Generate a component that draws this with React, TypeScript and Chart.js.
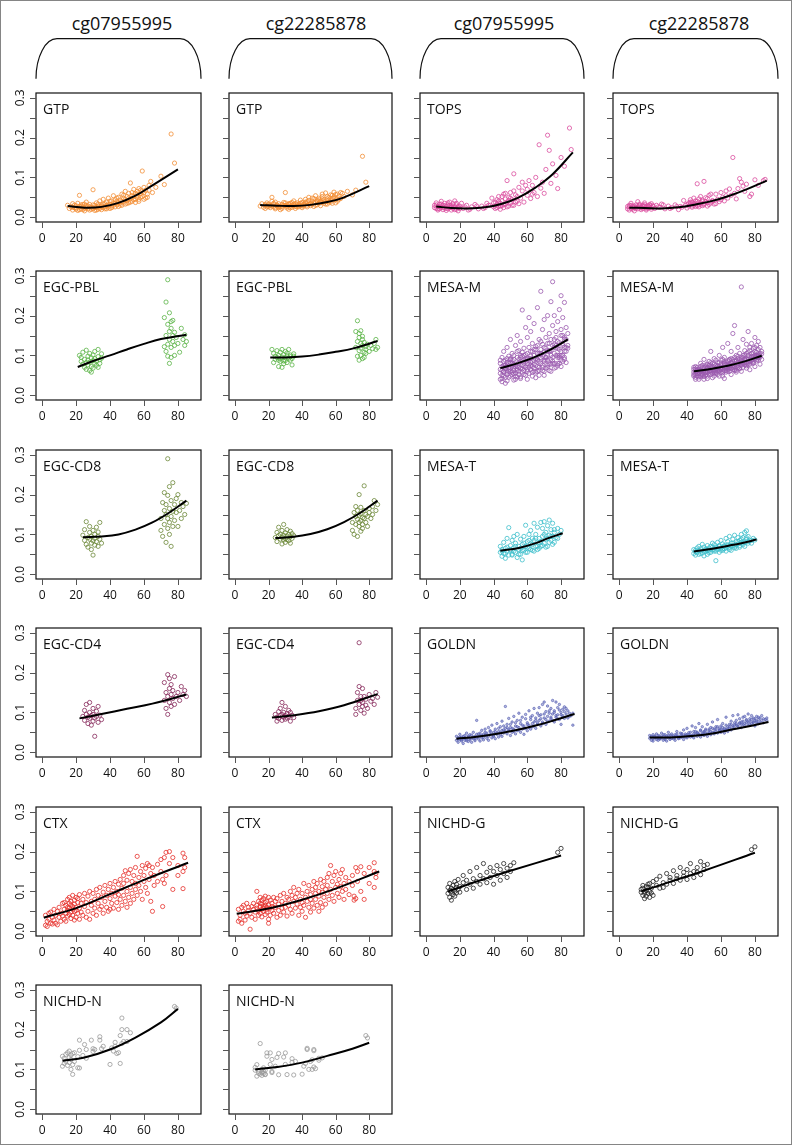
import React, { useEffect, useRef } from "react";
import { Chart, registerables } from "chart.js";
Chart.register(...registerables);

// ---------- layout ----------
const COL_L = [36, 229, 420, 613];
const COL_W = [165, 163, 164, 165];
const ROW_T = [93, 271, 450, 628, 807, 985];
const BOX_H = 129;
const HEADER_X = [121, 315, 503, 698];
const headerLabels = ["cg07955995", "cg22285878", "cg07955995", "cg22285878"];
const xTicks = [0, 20, 40, 60, 80];
const yTicks = [0, 0.05, 0.1, 0.15, 0.2, 0.25, 0.3];
const yLabelTicks = [0, 0.1, 0.2, 0.3];
const FONT = '"Open Sans", "Noto Sans", sans-serif';

// ---------- GTP ----------
const gtpAge = [15,16,17,18,18,19,20,20,21,21,22,22,23,23,24,24,25,25,26,26,27,27,28,28,29,30,30,31,31,32,32,33,33,34,34,35,35,36,36,37,37,38,38,39,39,40,40,41,41,42,42,43,43,44,44,45,45,46,46,47,47,48,48,49,49,50,50,51,51,52,52,53,53,54,54,55,55,56,56,57,57,58,58,59,59,60,60,61,62,63,64,65,67,70,72,76,78];
const gtpA = [0.030,0.022,0.026,0.018,0.034,0.024,0.029,0.020,0.035,0.017,0.027,0.055,0.021,0.031,0.019,0.026,0.033,0.016,0.024,0.038,0.021,0.028,0.018,0.032,0.025,0.069,0.022,0.030,0.017,0.036,0.024,0.028,0.020,0.041,0.026,0.019,0.031,0.045,0.024,0.034,0.021,0.029,0.038,0.025,0.048,0.032,0.022,0.041,0.028,0.036,0.054,0.026,0.044,0.031,0.039,0.050,0.027,0.043,0.035,0.058,0.030,0.047,0.038,0.065,0.033,0.052,0.042,0.036,0.060,0.046,0.086,0.040,0.055,0.070,0.044,0.060,0.037,0.065,0.050,0.072,0.045,0.058,0.068,0.116,0.052,0.062,0.075,0.048,0.058,0.068,0.090,0.062,0.075,0.103,0.082,0.209,0.136];
const gtpB = [0.028,0.034,0.025,0.030,0.022,0.036,0.027,0.031,0.024,0.029,0.040,0.050,0.026,0.033,0.021,0.038,0.028,0.030,0.024,0.034,0.027,0.019,0.032,0.026,0.037,0.062,0.029,0.023,0.031,0.034,0.020,0.028,0.035,0.030,0.025,0.033,0.041,0.027,0.022,0.031,0.036,0.026,0.033,0.043,0.029,0.024,0.037,0.031,0.028,0.045,0.034,0.026,0.039,0.032,0.050,0.036,0.029,0.041,0.033,0.047,0.027,0.038,0.054,0.043,0.031,0.036,0.048,0.029,0.040,0.052,0.058,0.035,0.044,0.039,0.061,0.046,0.033,0.050,0.038,0.056,0.042,0.047,0.035,0.063,0.051,0.044,0.057,0.040,0.053,0.047,0.060,0.052,0.065,0.056,0.068,0.153,0.088];
const gtpAge2 = [18,19,20,22,23,24,25,26,28,29,30,31,32,33,34,35,36,37,38,39,40,41,42,43,44,45,46,47,48,49,50,51,52,53,54,55,56,57,58,59,60,61,62,63];
const gtpA2 = [0.025,0.030,0.023,0.019,0.027,0.032,0.022,0.029,0.026,0.020,0.031,0.025,0.018,0.033,0.022,0.027,0.033,0.026,0.021,0.031,0.040,0.024,0.030,0.035,0.048,0.036,0.030,0.040,0.055,0.044,0.035,0.048,0.038,0.062,0.052,0.045,0.058,0.040,0.050,0.064,0.045,0.068,0.050,0.080];
const gtpB2 = [0.032,0.026,0.033,0.028,0.035,0.024,0.031,0.027,0.022,0.030,0.036,0.027,0.032,0.024,0.037,0.029,0.034,0.026,0.030,0.035,0.028,0.033,0.038,0.030,0.042,0.034,0.048,0.036,0.030,0.040,0.044,0.036,0.046,0.040,0.033,0.052,0.043,0.038,0.055,0.048,0.036,0.058,0.045,0.062];
const gtpFitAge = [15,25,35,45,55,65,80];
const gtpFitA = [0.028,0.024,0.026,0.036,0.054,0.080,0.120];
const gtpFitB = [0.031,0.029,0.028,0.031,0.038,0.050,0.078];

// ---------- TOPS ----------
const topsAge = [5,6,6,7,7,8,8,9,9,10,10,11,11,12,12,13,13,14,14,15,15,16,16,17,17,18,18,19,19,20,21,22,24,25,27,29,31,33,35,36,38,39,40,41,41,42,42,43,43,44,44,45,45,46,46,47,47,48,48,49,49,50,50,51,52,52,53,54,55,56,57,58,59,60,61,62,63,64,65,66,67,68,69,70,71,72,73,74,75,77,78,80,82,85,86];
const topsA = [0.030,0.022,0.036,0.018,0.027,0.033,0.021,0.040,0.025,0.019,0.030,0.023,0.035,0.017,0.027,0.031,0.021,0.038,0.024,0.018,0.029,0.034,0.022,0.026,0.041,0.020,0.031,0.024,0.016,0.028,0.035,0.022,0.030,0.018,0.026,0.032,0.021,0.028,0.024,0.035,0.030,0.048,0.026,0.038,0.022,0.044,0.031,0.027,0.052,0.035,0.020,0.041,0.029,0.058,0.024,0.046,0.033,0.092,0.038,0.028,0.050,0.062,0.035,0.044,0.109,0.030,0.056,0.040,0.075,0.048,0.066,0.038,0.080,0.055,0.092,0.047,0.080,0.062,0.100,0.052,0.182,0.073,0.088,0.060,0.120,0.206,0.168,0.085,0.134,0.105,0.072,0.150,0.128,0.224,0.170];
const topsB = [0.027,0.018,0.030,0.022,0.035,0.020,0.028,0.024,0.016,0.031,0.025,0.039,0.021,0.027,0.033,0.019,0.025,0.030,0.022,0.028,0.036,0.024,0.018,0.029,0.023,0.032,0.026,0.020,0.034,0.027,0.022,0.030,0.025,0.033,0.021,0.028,0.024,0.031,0.019,0.027,0.042,0.030,0.023,0.036,0.028,0.033,0.044,0.025,0.038,0.030,0.048,0.027,0.035,0.084,0.040,0.031,0.026,0.052,0.037,0.029,0.043,0.090,0.034,0.039,0.047,0.028,0.055,0.036,0.042,0.033,0.058,0.045,0.039,0.062,0.050,0.041,0.066,0.048,0.071,0.055,0.150,0.060,0.046,0.072,0.097,0.088,0.078,0.065,0.083,0.052,0.058,0.094,0.080,0.092,0.095];
const topsAge2 = [5,6,7,8,9,10,11,12,13,14,15,16,17,18,19,20,23,26,30,34,37,40,42,43,44,45,46,47,48,49,50,51,52,53,54,55,57,60,63];
const topsA2 = [0.024,0.031,0.021,0.027,0.033,0.024,0.029,0.022,0.036,0.030,0.025,0.028,0.019,0.035,0.027,0.022,0.026,0.020,0.028,0.022,0.030,0.036,0.024,0.040,0.028,0.052,0.032,0.060,0.026,0.042,0.048,0.030,0.066,0.038,0.052,0.034,0.088,0.070,0.058];
const topsB2 = [0.021,0.026,0.030,0.024,0.028,0.022,0.026,0.030,0.023,0.027,0.032,0.021,0.027,0.030,0.024,0.029,0.026,0.031,0.022,0.027,0.025,0.032,0.038,0.028,0.034,0.041,0.029,0.046,0.033,0.040,0.031,0.049,0.037,0.032,0.058,0.040,0.034,0.044,0.054];
const topsFitAge = [6,15,25,35,45,55,65,75,87];
const topsFitA = [0.027,0.023,0.022,0.025,0.034,0.050,0.075,0.108,0.163];
const topsFitB = [0.024,0.023,0.022,0.025,0.032,0.041,0.054,0.070,0.092];

// ---------- EGC-PBL ----------
const pblAge = [22,23,23,24,24,25,25,26,26,26,27,27,27,28,28,28,29,29,29,30,30,30,31,31,31,32,32,33,33,33,34,34,35,35,72,72,73,73,73,74,74,74,74,75,75,75,75,76,76,76,76,77,77,77,78,78,78,79,80,81,82,83,84,84,85];
const pblA = [0.100,0.085,0.095,0.078,0.108,0.070,0.090,0.082,0.113,0.065,0.098,0.076,0.088,0.062,0.105,0.083,0.072,0.094,0.058,0.087,0.101,0.068,0.080,0.092,0.110,0.075,0.086,0.097,0.070,0.115,0.089,0.080,0.104,0.093,0.122,0.195,0.234,0.110,0.150,0.290,0.128,0.178,0.098,0.207,0.160,0.140,0.080,0.185,0.120,0.168,0.095,0.150,0.135,0.188,0.100,0.158,0.125,0.145,0.130,0.108,0.168,0.140,0.125,0.152,0.135];
const pblB = [0.115,0.105,0.082,0.098,0.090,0.112,0.095,0.088,0.100,0.072,0.108,0.092,0.085,0.070,0.115,0.096,0.086,0.102,0.079,0.110,0.094,0.087,0.099,0.082,0.106,0.093,0.115,0.088,0.101,0.097,0.076,0.092,0.104,0.098,0.120,0.160,0.187,0.098,0.135,0.145,0.112,0.155,0.088,0.162,0.130,0.100,0.118,0.148,0.092,0.140,0.125,0.108,0.133,0.095,0.122,0.115,0.105,0.128,0.110,0.125,0.117,0.130,0.115,0.140,0.120];
const pblFitAge = [21,30,40,50,60,70,85];
const pblFitA = [0.071,0.086,0.100,0.115,0.129,0.141,0.152];
const pblFitB = [0.095,0.095,0.097,0.102,0.109,0.117,0.136];

// ---------- EGC-CD8 ----------
const cd8Age = [24,25,25,26,26,27,27,28,28,28,29,29,29,30,30,30,31,31,31,32,32,33,33,33,34,34,35,70,70,71,71,72,72,72,73,73,73,74,74,74,74,75,75,75,75,76,76,76,77,77,77,78,78,79,79,80,80,81,82,82,83,84,85];
const cd8A = [0.098,0.085,0.112,0.075,0.132,0.092,0.068,0.105,0.088,0.120,0.078,0.095,0.062,0.110,0.084,0.048,0.100,0.073,0.090,0.118,0.082,0.095,0.070,0.106,0.088,0.130,0.078,0.140,0.110,0.180,0.095,0.160,0.125,0.205,0.150,0.080,0.175,0.290,0.140,0.198,0.115,0.165,0.130,0.220,0.100,0.185,0.145,0.070,0.158,0.120,0.230,0.175,0.135,0.155,0.190,0.120,0.200,0.160,0.140,0.180,0.170,0.150,0.178];
const cd8B = [0.092,0.105,0.082,0.097,0.118,0.088,0.100,0.076,0.110,0.093,0.086,0.125,0.098,0.090,0.080,0.104,0.096,0.087,0.112,0.100,0.084,0.094,0.078,0.108,0.090,0.102,0.097,0.130,0.110,0.155,0.100,0.125,0.145,0.170,0.138,0.095,0.160,0.200,0.120,0.148,0.130,0.152,0.108,0.168,0.135,0.142,0.125,0.115,0.160,0.140,0.222,0.130,0.150,0.145,0.120,0.165,0.155,0.140,0.170,0.150,0.185,0.160,0.175];
const cd8FitAge = [24,35,45,55,65,75,85];
const cd8FitA = [0.093,0.095,0.100,0.112,0.130,0.155,0.185];
const cd8FitB = [0.091,0.094,0.101,0.113,0.131,0.155,0.185];

// ---------- EGC-CD4 ----------
const cd4Age = [24,25,25,26,26,27,27,28,28,28,29,29,30,30,30,31,31,32,32,33,33,34,35,72,72,73,73,74,74,74,75,75,75,76,76,76,77,77,78,78,79,80,81,82,83,84,85];
const cd4A = [0.090,0.105,0.080,0.095,0.120,0.072,0.088,0.100,0.085,0.125,0.068,0.092,0.110,0.078,0.095,0.040,0.086,0.103,0.090,0.075,0.115,0.093,0.082,0.130,0.175,0.150,0.110,0.195,0.140,0.095,0.160,0.125,0.185,0.145,0.115,0.170,0.135,0.155,0.120,0.190,0.140,0.150,0.130,0.165,0.145,0.155,0.140];
const cd4B = [0.095,0.088,0.078,0.102,0.085,0.092,0.110,0.080,0.095,0.125,0.088,0.100,0.083,0.092,0.115,0.086,0.097,0.105,0.090,0.078,0.100,0.093,0.087,0.110,0.095,0.130,0.150,0.275,0.120,0.165,0.140,0.105,0.130,0.115,0.160,0.125,0.098,0.140,0.118,0.133,0.110,0.145,0.128,0.135,0.120,0.150,0.138];
const cd4FitAge = [22,35,50,65,85];
const cd4FitA = [0.085,0.096,0.109,0.122,0.145];
const cd4FitB = [0.087,0.093,0.103,0.118,0.146];

// ---------- MESA-M ----------
const mesaMAge = [44,44,44,45,45,45,46,46,46,47,47,47,48,48,48,49,49,49,50,50,50,51,51,51,52,52,52,53,53,53,54,54,54,55,55,55,56,56,56,57,57,57,58,58,58,59,59,59,60,60,60,61,61,61,62,62,62,63,63,63,64,64,64,65,65,65,66,66,66,67,67,67,68,68,68,69,69,69,70,70,70,71,71,71,72,72,72,73,73,73,74,74,74,75,75,75,76,76,76,77,77,77,78,78,78,79,79,79,80,80,80,81,81,81,82,82,82,83,83,84];
const mesaMA = [0.055,0.080,0.040,0.095,0.062,0.034,0.075,0.048,0.110,0.066,0.088,0.030,0.120,0.058,0.076,0.045,0.098,0.070,0.082,0.060,0.140,0.052,0.105,0.073,0.090,0.038,0.068,0.125,0.078,0.056,0.095,0.046,0.150,0.070,0.112,0.060,0.085,0.135,0.042,0.214,0.075,0.098,0.062,0.118,0.088,0.170,0.050,0.102,0.080,0.145,0.065,0.195,0.092,0.055,0.110,0.075,0.160,0.085,0.130,0.048,0.100,0.180,0.068,0.122,0.058,0.092,0.220,0.105,0.072,0.140,0.085,0.050,0.261,0.115,0.095,0.165,0.075,0.128,0.108,0.190,0.060,0.145,0.088,0.118,0.200,0.100,0.070,0.155,0.130,0.062,0.235,0.112,0.090,0.285,0.175,0.080,0.140,0.105,0.200,0.125,0.160,0.070,0.185,0.095,0.135,0.215,0.115,0.080,0.250,0.150,0.100,0.130,0.195,0.085,0.233,0.145,0.110,0.170,0.120,0.155];
const mesaMB = [0.048,0.065,0.058,0.072,0.052,0.045,0.060,0.070,0.055,0.040,0.066,0.058,0.080,0.050,0.062,0.068,0.055,0.075,0.047,0.063,0.090,0.058,0.072,0.050,0.066,0.042,0.078,0.060,0.085,0.053,0.070,0.062,0.110,0.055,0.080,0.067,0.048,0.092,0.060,0.075,0.064,0.057,0.082,0.068,0.052,0.100,0.072,0.061,0.058,0.088,0.070,0.120,0.066,0.048,0.078,0.062,0.095,0.070,0.058,0.083,0.064,0.130,0.075,0.088,0.060,0.072,0.110,0.068,0.080,0.155,0.065,0.090,0.175,0.078,0.070,0.100,0.062,0.085,0.092,0.120,0.075,0.080,0.068,0.105,0.272,0.088,0.078,0.095,0.140,0.070,0.112,0.082,0.100,0.128,0.092,0.074,0.160,0.085,0.108,0.095,0.078,0.120,0.105,0.088,0.130,0.098,0.118,0.085,0.145,0.095,0.110,0.100,0.125,0.090,0.115,0.102,0.135,0.120,0.098,0.110];
const mesaMAge2 = [44,44,45,45,46,46,47,47,48,48,49,49,50,50,51,51,52,52,53,53,54,54,55,55,56,56,57,57,58,58,59,59,60,60,61,61,62,62,63,63,64,64,65,65,66,66,67,67,68,68,69,69,70,70,71,71,72,72,73,73,74,74,75,75,76,76,77,77,78,78,79,79,80,80,81,81,82,82,83,83];
const mesaMA2 = [0.065,0.088,0.050,0.072,0.085,0.060,0.070,0.045,0.052,0.092,0.080,0.060,0.068,0.090,0.088,0.058,0.062,0.100,0.072,0.048,0.110,0.066,0.082,0.052,0.095,0.068,0.058,0.108,0.080,0.100,0.070,0.090,0.105,0.060,0.078,0.120,0.092,0.065,0.110,0.072,0.088,0.060,0.075,0.115,0.090,0.125,0.105,0.070,0.080,0.135,0.098,0.062,0.120,0.085,0.095,0.068,0.130,0.088,0.110,0.078,0.140,0.100,0.095,0.125,0.120,0.080,0.100,0.145,0.118,0.075,0.132,0.095,0.110,0.165,0.150,0.100,0.120,0.095,0.140,0.110];
const mesaMB2 = [0.070,0.052,0.058,0.066,0.048,0.062,0.064,0.054,0.072,0.046,0.060,0.052,0.070,0.056,0.052,0.076,0.068,0.058,0.075,0.062,0.058,0.082,0.064,0.072,0.078,0.056,0.068,0.088,0.060,0.074,0.082,0.064,0.066,0.078,0.090,0.060,0.070,0.084,0.078,0.062,0.086,0.068,0.066,0.090,0.075,0.092,0.084,0.070,0.062,0.095,0.088,0.076,0.070,0.098,0.090,0.082,0.075,0.094,0.100,0.082,0.090,0.076,0.105,0.080,0.090,0.100,0.085,0.112,0.098,0.090,0.106,0.082,0.092,0.120,0.098,0.108,0.088,0.100,0.105,0.095];
const mesaMAge3 = [45,46,47,48,49,50,51,52,53,54,55,56,57,58,59,60,61,62,63,64,65,66,67,68,69,70,71,72,73,74,75,76,77,78,79,80,81,82,83,84,46,48,50,52,54,56,58,60,62,64,66,68,70,72,74,76,78,80,82,84];
const mesaMA3 = [0.042,0.058,0.075,0.036,0.064,0.048,0.080,0.054,0.040,0.072,0.090,0.046,0.066,0.052,0.085,0.040,0.070,0.098,0.058,0.078,0.044,0.088,0.062,0.105,0.070,0.050,0.095,0.075,0.112,0.060,0.086,0.068,0.118,0.080,0.100,0.072,0.125,0.090,0.082,0.118,0.070,0.082,0.092,0.078,0.062,0.100,0.074,0.092,0.082,0.115,0.060,0.102,0.088,0.112,0.078,0.128,0.100,0.088,0.140,0.125];
const mesaMB3 = [0.040,0.055,0.046,0.060,0.050,0.040,0.058,0.048,0.066,0.052,0.044,0.062,0.054,0.072,0.048,0.064,0.056,0.042,0.068,0.060,0.078,0.052,0.074,0.064,0.058,0.084,0.066,0.060,0.078,0.088,0.068,0.076,0.064,0.094,0.080,0.072,0.086,0.096,0.078,0.104,0.064,0.058,0.060,0.070,0.076,0.064,0.066,0.074,0.080,0.072,0.082,0.086,0.070,0.084,0.092,0.080,0.086,0.100,0.094,0.090];
const mesaMFitAge = [44,54,64,74,84];
const mesaMFitA = [0.068,0.080,0.095,0.115,0.140];
const mesaMFitB = [0.060,0.066,0.074,0.085,0.099];

// ---------- MESA-T ----------
const mesaTAge = [44,44,45,45,46,46,47,47,48,48,49,49,50,50,51,51,52,52,53,53,54,54,55,55,56,56,57,57,58,58,59,59,60,60,61,61,62,62,63,63,64,64,65,65,66,66,67,67,68,68,69,69,70,70,71,71,72,72,73,73,74,74,75,75,76,76,78,78,79,80];
const mesaTA = [0.055,0.070,0.045,0.062,0.080,0.052,0.065,0.040,0.090,0.058,0.117,0.048,0.072,0.060,0.085,0.050,0.066,0.095,0.055,0.078,0.100,0.042,0.070,0.062,0.088,0.050,0.036,0.075,0.095,0.060,0.123,0.070,0.082,0.055,0.100,0.065,0.076,0.110,0.060,0.090,0.085,0.128,0.070,0.100,0.118,0.062,0.090,0.080,0.130,0.070,0.095,0.115,0.078,0.132,0.105,0.088,0.122,0.070,0.098,0.136,0.085,0.112,0.128,0.095,0.080,0.105,0.115,0.090,0.100,0.110];
const mesaTB = [0.052,0.062,0.060,0.048,0.066,0.055,0.050,0.070,0.058,0.064,0.075,0.053,0.046,0.068,0.062,0.057,0.072,0.050,0.060,0.066,0.055,0.070,0.078,0.061,0.058,0.074,0.034,0.068,0.062,0.080,0.070,0.055,0.085,0.066,0.060,0.076,0.072,0.064,0.090,0.058,0.070,0.082,0.095,0.066,0.078,0.060,0.088,0.072,0.070,0.098,0.082,0.065,0.092,0.076,0.085,0.068,0.100,0.080,0.078,0.092,0.105,0.070,0.109,0.088,0.082,0.095,0.085,0.078,0.090,0.086];
const mesaTAge2 = [45,47,48,50,51,52,53,55,56,57,58,59,60,61,62,63,64,65,66,67,68,69,70,71,72,73,74,75,76,77];
const mesaTA2 = [0.058,0.052,0.068,0.062,0.048,0.058,0.070,0.050,0.065,0.060,0.078,0.055,0.068,0.085,0.062,0.075,0.058,0.090,0.070,0.065,0.082,0.072,0.100,0.068,0.090,0.080,0.095,0.075,0.112,0.092];
const mesaTB2 = [0.056,0.060,0.052,0.058,0.064,0.060,0.054,0.068,0.062,0.058,0.066,0.072,0.060,0.064,0.070,0.066,0.074,0.062,0.072,0.078,0.066,0.074,0.082,0.072,0.088,0.074,0.080,0.092,0.078,0.084];
const mesaTFitAge = [44,55,65,72,81];
const mesaTFitA = [0.059,0.066,0.078,0.090,0.103];
const mesaTFitB = [0.057,0.064,0.072,0.078,0.087];

// ---------- GOLDN ----------
const goldnAge = [18,18,19,19,20,20,21,21,22,22,23,23,24,24,25,25,26,26,27,27,28,28,29,29,30,30,31,31,32,32,33,33,34,34,35,35,36,36,37,37,38,38,39,39,40,40,41,41,42,42,43,43,44,44,45,45,46,46,47,47,48,48,49,49,50,50,51,51,52,52,53,53,54,54,55,55,56,56,57,57,58,58,59,59,60,60,61,61,62,62,63,63,64,64,65,65,66,66,67,67,68,68,69,69,70,70,71,71,72,72,73,73,74,74,75,75,76,76,77,77,78,78,79,79,80,80,81,81,82,82,83,84,85,87,87];
const goldnA = [0.030,0.040,0.025,0.036,0.045,0.032,0.028,0.038,0.035,0.022,0.042,0.030,0.033,0.048,0.027,0.038,0.044,0.031,0.036,0.025,0.050,0.034,0.040,0.029,0.080,0.037,0.033,0.046,0.041,0.028,0.055,0.036,0.031,0.045,0.042,0.058,0.035,0.048,0.062,0.030,0.044,0.052,0.036,0.068,0.050,0.040,0.058,0.034,0.045,0.072,0.052,0.038,0.064,0.044,0.040,0.078,0.056,0.048,0.115,0.060,0.046,0.070,0.054,0.085,0.042,0.062,0.076,0.050,0.058,0.090,0.046,0.066,0.080,0.054,0.062,0.098,0.050,0.072,0.088,0.058,0.066,0.045,0.095,0.060,0.074,0.054,0.104,0.068,0.058,0.082,0.092,0.064,0.076,0.110,0.060,0.086,0.098,0.070,0.080,0.112,0.066,0.094,0.120,0.076,0.126,0.086,0.070,0.102,0.090,0.116,0.078,0.098,0.110,0.084,0.096,0.130,0.076,0.104,0.126,0.088,0.112,0.094,0.082,0.120,0.100,0.070,0.092,0.108,0.085,0.114,0.096,0.104,0.090,0.068,0.098];
const goldnB = [0.035,0.042,0.030,0.038,0.028,0.044,0.036,0.040,0.032,0.046,0.038,0.030,0.041,0.034,0.036,0.048,0.030,0.039,0.044,0.035,0.038,0.028,0.042,0.050,0.036,0.032,0.046,0.040,0.034,0.038,0.044,0.030,0.040,0.052,0.036,0.034,0.048,0.040,0.038,0.044,0.032,0.056,0.042,0.046,0.060,0.036,0.044,0.040,0.050,0.038,0.066,0.042,0.046,0.036,0.052,0.062,0.040,0.048,0.072,0.044,0.056,0.038,0.048,0.064,0.042,0.052,0.058,0.046,0.040,0.070,0.054,0.048,0.062,0.044,0.050,0.076,0.058,0.046,0.064,0.052,0.082,0.048,0.056,0.060,0.050,0.066,0.072,0.054,0.060,0.048,0.088,0.058,0.064,0.052,0.070,0.060,0.056,0.078,0.066,0.092,0.060,0.074,0.068,0.080,0.094,0.064,0.072,0.084,0.062,0.076,0.088,0.070,0.066,0.090,0.080,0.074,0.096,0.068,0.084,0.078,0.072,0.092,0.086,0.076,0.080,0.066,0.090,0.074,0.082,0.088,0.076,0.092,0.084,0.080,0.086];
const goldnAge2 = [19,20,21,22,23,24,25,26,27,28,29,30,31,32,33,34,35,36,37,38,39,40,41,42,43,44,45,46,47,48,49,50,51,52,53,54,55,56,57,58,59,60,61,62,63,64,65,66,67,68,69,70,71,72,73,74,75,76,77,78,79,80,81,82,83,84,85,86];
const goldnA2 = [0.033,0.038,0.031,0.040,0.036,0.029,0.041,0.035,0.043,0.038,0.033,0.045,0.039,0.048,0.042,0.037,0.050,0.043,0.040,0.054,0.046,0.041,0.052,0.048,0.060,0.050,0.055,0.066,0.052,0.062,0.057,0.070,0.060,0.052,0.074,0.064,0.056,0.080,0.068,0.060,0.084,0.070,0.062,0.088,0.072,0.066,0.080,0.074,0.092,0.084,0.072,0.096,0.082,0.076,0.104,0.088,0.080,0.100,0.092,0.084,0.106,0.094,0.088,0.102,0.110,0.086,0.098,0.092];
const goldnB2 = [0.040,0.034,0.039,0.036,0.042,0.033,0.038,0.044,0.032,0.041,0.036,0.043,0.035,0.041,0.037,0.045,0.039,0.036,0.047,0.040,0.038,0.044,0.049,0.042,0.040,0.052,0.044,0.050,0.046,0.054,0.044,0.050,0.055,0.048,0.058,0.052,0.060,0.050,0.058,0.064,0.054,0.058,0.062,0.056,0.068,0.058,0.064,0.070,0.062,0.068,0.072,0.066,0.074,0.070,0.078,0.072,0.082,0.076,0.070,0.082,0.074,0.084,0.078,0.072,0.086,0.080,0.074,0.082];
const goldnFitAge = [18,30,43,55,65,75,88];
const goldnFitA = [0.034,0.039,0.047,0.057,0.067,0.079,0.096];
const goldnFitB = [0.037,0.037,0.041,0.047,0.056,0.064,0.076];

// ---------- CTX ----------
const ctxAge = [2,2,3,3,4,4,5,5,6,6,7,7,8,8,9,9,10,10,11,11,12,12,13,13,13,14,14,14,15,15,15,15,16,16,16,16,17,17,17,17,18,18,18,18,19,19,19,19,20,20,20,20,21,21,21,22,22,22,23,23,24,24,25,25,26,26,27,27,28,28,29,29,30,30,31,31,32,32,33,33,34,34,35,35,36,36,37,37,38,38,39,39,40,40,40,41,41,42,42,43,43,44,44,45,45,45,46,46,47,47,48,48,48,49,49,50,50,50,51,51,52,52,52,53,53,54,54,55,55,55,56,56,57,57,58,58,59,59,60,60,61,61,62,62,63,63,64,64,65,65,66,66,68,68,70,70,71,71,72,72,73,73,75,75,77,77,80,80,83,83,83,84,84];
const ctxA = [0.015,0.040,0.025,0.012,0.045,0.030,0.020,0.048,0.035,0.018,0.055,0.028,0.040,0.020,0.016,0.050,0.035,0.060,0.025,0.045,0.070,0.038,0.055,0.030,0.072,0.045,0.065,0.025,0.060,0.080,0.038,0.052,0.070,0.042,0.058,0.085,0.032,0.066,0.075,0.048,0.055,0.090,0.040,0.062,0.078,0.028,0.050,0.068,0.060,0.085,0.035,0.052,0.072,0.045,0.082,0.058,0.030,0.092,0.048,0.070,0.080,0.040,0.062,0.095,0.035,0.072,0.088,0.050,0.100,0.030,0.065,0.075,0.045,0.095,0.080,0.058,0.105,0.040,0.070,0.090,0.055,0.110,0.085,0.062,0.098,0.045,0.075,0.115,0.060,0.090,0.105,0.050,0.082,0.120,0.055,0.095,0.070,0.110,0.058,0.088,0.125,0.072,0.100,0.118,0.055,0.092,0.130,0.080,0.065,0.108,0.120,0.090,0.140,0.075,0.152,0.100,0.060,0.128,0.145,0.085,0.110,0.155,0.070,0.125,0.095,0.140,0.080,0.160,0.105,0.120,0.188,0.090,0.135,0.115,0.100,0.150,0.165,0.080,0.125,0.140,0.110,0.158,0.170,0.095,0.130,0.165,0.145,0.075,0.160,0.050,0.115,0.140,0.168,0.125,0.150,0.180,0.130,0.062,0.185,0.120,0.198,0.140,0.170,0.200,0.105,0.185,0.165,0.140,0.196,0.107,0.150,0.160,0.185];
const ctxB = [0.025,0.055,0.040,0.030,0.060,0.020,0.050,0.065,0.028,0.045,0.070,0.038,0.052,0.060,0.005,0.045,0.062,0.035,0.055,0.070,0.048,0.030,0.100,0.058,0.065,0.040,0.075,0.052,0.062,0.045,0.085,0.070,0.055,0.078,0.036,0.068,0.062,0.050,0.082,0.058,0.072,0.042,0.065,0.088,0.055,0.060,0.075,0.048,0.030,0.066,0.085,0.020,0.058,0.078,0.040,0.070,0.052,0.062,0.085,0.045,0.060,0.075,0.035,0.082,0.068,0.052,0.090,0.040,0.058,0.075,0.048,0.095,0.070,0.060,0.085,0.038,0.065,0.080,0.100,0.055,0.045,0.090,0.075,0.110,0.058,0.085,0.095,0.068,0.040,0.105,0.080,0.060,0.095,0.072,0.050,0.120,0.065,0.085,0.035,0.100,0.075,0.060,0.115,0.092,0.048,0.080,0.105,0.070,0.058,0.125,0.095,0.080,0.110,0.065,0.120,0.100,0.050,0.088,0.130,0.072,0.112,0.098,0.060,0.125,0.085,0.105,0.068,0.135,0.095,0.115,0.145,0.080,0.165,0.105,0.090,0.125,0.140,0.075,0.110,0.150,0.095,0.118,0.130,0.085,0.145,0.112,0.100,0.155,0.120,0.080,0.135,0.105,0.125,0.092,0.115,0.140,0.088,0.078,0.160,0.082,0.150,0.125,0.162,0.100,0.145,0.080,0.160,0.120,0.172,0.110,0.150,0.135,0.145];
const ctxFitAge = [1,20,40,60,86];
const ctxFitA = [0.034,0.058,0.093,0.129,0.172];
const ctxFitB = [0.044,0.057,0.079,0.107,0.150];

// ---------- NICHD-G ----------
const nichdGAge = [13,13,14,14,14,15,15,15,16,16,16,17,17,17,18,18,18,19,19,20,20,22,22,24,24,26,26,28,28,30,30,32,32,34,34,36,36,38,38,40,40,42,42,44,44,46,46,48,48,50,50,52,78,80];
const nichdGA = [0.095,0.110,0.085,0.102,0.120,0.098,0.108,0.078,0.092,0.115,0.104,0.125,0.088,0.100,0.110,0.096,0.118,0.105,0.130,0.098,0.112,0.122,0.140,0.105,0.128,0.150,0.118,0.132,0.108,0.160,0.125,0.140,0.118,0.170,0.132,0.148,0.122,0.135,0.160,0.118,0.150,0.165,0.140,0.128,0.155,0.170,0.145,0.158,0.135,0.150,0.165,0.172,0.198,0.208];
const nichdGB = [0.098,0.105,0.090,0.115,0.108,0.082,0.100,0.095,0.112,0.088,0.102,0.118,0.095,0.110,0.085,0.120,0.100,0.108,0.096,0.125,0.090,0.115,0.130,0.108,0.138,0.122,0.110,0.145,0.118,0.135,0.128,0.152,0.120,0.140,0.132,0.160,0.128,0.148,0.138,0.130,0.155,0.145,0.170,0.150,0.135,0.160,0.148,0.175,0.142,0.165,0.155,0.168,0.205,0.212];
const nichdGFitAge = [13,30,50,80];
const nichdGFitA = [0.100,0.125,0.152,0.190];
const nichdGFitB = [0.100,0.124,0.152,0.197];

// ---------- NICHD-N ----------
const nichdNAge = [12,12,13,13,14,14,15,15,16,16,16,17,17,17,18,18,18,19,19,21,21,22,22,22,24,25,26,26,29,30,30,31,34,34,35,36,40,41,42,43,43,44,45,46,46,47,47,47,48,50,50,52,78,79];
const nichdNA = [0.108,0.133,0.128,0.115,0.138,0.120,0.142,0.110,0.117,0.146,0.130,0.100,0.125,0.136,0.0875,0.112,0.140,0.142,0.120,0.104,0.132,0.1035,0.1735,0.148,0.135,0.1625,0.150,0.128,0.1735,0.152,0.145,0.150,0.182,0.1735,0.152,0.158,0.1125,0.154,0.146,0.158,0.168,0.140,0.142,0.185,0.115,0.229,0.165,0.200,0.170,0.200,0.170,0.192,0.258,0.254];
const nichdNB = [0.105,0.098,0.083,0.112,0.090,0.095,0.165,0.088,0.100,0.092,0.085,0.095,0.104,0.090,0.098,0.087,0.088,0.1415,0.133,0.1125,0.1415,0.125,0.092,0.095,0.108,0.130,0.140,0.0865,0.131,0.1415,0.1125,0.087,0.127,0.118,0.086,0.120,0.088,0.108,0.115,0.153,0.150,0.100,0.120,0.124,0.100,0.106,0.150,0.147,0.102,0.123,0.128,0.129,0.185,0.179];
const nichdNFitAge = [12,25,40,55,70,80];
const nichdNFitA = [0.122,0.130,0.150,0.180,0.218,0.252];
const nichdNFitB = [0.100,0.106,0.117,0.134,0.152,0.167];

// ---------- colours ----------
const C_GTP = "#F28E35";
const C_TOPS = "#DA4C9E";
const C_PBL = "#5BB446";
const C_MESAM = "#9A5BAE";
const C_CD8 = "#6C8838";
const C_MESAT = "#3DBFCB";
const C_CD4 = "#87285A";
const C_GOLDN = "#5A63B5";
const C_CTX = "#E6302B";
const C_NG = "#222222";
const C_NN = "#999999";

type PanelDef = {
  row: number; col: number; label: string;
  ages: number[]; vals: number[]; fitX: number[]; fitY: number[];
  color: string; r?: number; bw?: number; fill?: string;
};

const GOLDN_FILL = "rgba(90,99,181,0.45)";

const panels: PanelDef[] = [
  { row: 0, col: 0, label: "GTP", ages: [...gtpAge, ...gtpAge2], vals: [...gtpA, ...gtpA2], fitX: gtpFitAge, fitY: gtpFitA, color: C_GTP },
  { row: 0, col: 1, label: "GTP", ages: [...gtpAge, ...gtpAge2], vals: [...gtpB, ...gtpB2], fitX: gtpFitAge, fitY: gtpFitB, color: C_GTP },
  { row: 0, col: 2, label: "TOPS", ages: [...topsAge, ...topsAge2], vals: [...topsA, ...topsA2], fitX: topsFitAge, fitY: topsFitA, color: C_TOPS },
  { row: 0, col: 3, label: "TOPS", ages: [...topsAge, ...topsAge2], vals: [...topsB, ...topsB2], fitX: topsFitAge, fitY: topsFitB, color: C_TOPS },
  { row: 1, col: 0, label: "EGC-PBL", ages: pblAge, vals: pblA, fitX: pblFitAge, fitY: pblFitA, color: C_PBL },
  { row: 1, col: 1, label: "EGC-PBL", ages: pblAge, vals: pblB, fitX: pblFitAge, fitY: pblFitB, color: C_PBL },
  { row: 1, col: 2, label: "MESA-M", ages: [...mesaMAge, ...mesaMAge2, ...mesaMAge3], vals: [...mesaMA, ...mesaMA2, ...mesaMA3], fitX: mesaMFitAge, fitY: mesaMFitA, color: C_MESAM },
  { row: 1, col: 3, label: "MESA-M", ages: [...mesaMAge, ...mesaMAge2, ...mesaMAge3], vals: [...mesaMB, ...mesaMB2, ...mesaMB3], fitX: mesaMFitAge, fitY: mesaMFitB, color: C_MESAM },
  { row: 2, col: 0, label: "EGC-CD8", ages: cd8Age, vals: cd8A, fitX: cd8FitAge, fitY: cd8FitA, color: C_CD8 },
  { row: 2, col: 1, label: "EGC-CD8", ages: cd8Age, vals: cd8B, fitX: cd8FitAge, fitY: cd8FitB, color: C_CD8 },
  { row: 2, col: 2, label: "MESA-T", ages: [...mesaTAge, ...mesaTAge2], vals: [...mesaTA, ...mesaTA2], fitX: mesaTFitAge, fitY: mesaTFitA, color: C_MESAT },
  { row: 2, col: 3, label: "MESA-T", ages: [...mesaTAge, ...mesaTAge2], vals: [...mesaTB, ...mesaTB2], fitX: mesaTFitAge, fitY: mesaTFitB, color: C_MESAT },
  { row: 3, col: 0, label: "EGC-CD4", ages: cd4Age, vals: cd4A, fitX: cd4FitAge, fitY: cd4FitA, color: C_CD4 },
  { row: 3, col: 1, label: "EGC-CD4", ages: cd4Age, vals: cd4B, fitX: cd4FitAge, fitY: cd4FitB, color: C_CD4 },
  { row: 3, col: 2, label: "GOLDN", ages: [...goldnAge, ...goldnAge2], vals: [...goldnA, ...goldnA2], fitX: goldnFitAge, fitY: goldnFitA, color: C_GOLDN, r: 1.2, bw: 0.7, fill: GOLDN_FILL },
  { row: 3, col: 3, label: "GOLDN", ages: [...goldnAge, ...goldnAge2], vals: [...goldnB, ...goldnB2], fitX: goldnFitAge, fitY: goldnFitB, color: C_GOLDN, r: 1.2, bw: 0.7, fill: GOLDN_FILL },
  { row: 4, col: 0, label: "CTX", ages: ctxAge, vals: ctxA, fitX: ctxFitAge, fitY: ctxFitA, color: C_CTX },
  { row: 4, col: 1, label: "CTX", ages: ctxAge, vals: ctxB, fitX: ctxFitAge, fitY: ctxFitB, color: C_CTX },
  { row: 4, col: 2, label: "NICHD-G", ages: nichdGAge, vals: nichdGA, fitX: nichdGFitAge, fitY: nichdGFitA, color: C_NG },
  { row: 4, col: 3, label: "NICHD-G", ages: nichdGAge, vals: nichdGB, fitX: nichdGFitAge, fitY: nichdGFitB, color: C_NG },
  { row: 5, col: 0, label: "NICHD-N", ages: nichdNAge, vals: nichdNA, fitX: nichdNFitAge, fitY: nichdNFitA, color: C_NN },
  { row: 5, col: 1, label: "NICHD-N", ages: nichdNAge, vals: nichdNB, fitX: nichdNFitAge, fitY: nichdNFitB, color: C_NN },
];

const PAD_L = 40, PAD_T = 8, PAD_R = 10, PAD_B = 34;

function makeFramePlugin(p: PanelDef) {
  return {
    id: "frame",
    afterDraw(chart: any) {
      const ctx: CanvasRenderingContext2D = chart.ctx;
      const { left, right, top, bottom } = chart.chartArea;
      const xs = chart.scales.x;
      const ys = chart.scales.y;
      ctx.save();
      ctx.strokeStyle = "#111";
      ctx.lineWidth = 1.2;
      ctx.strokeRect(left, top, right - left, bottom - top);
      ctx.strokeStyle = "#555";
      ctx.lineWidth = 1;
      ctx.beginPath();
      for (const v of yTicks) {
        const py = Math.round(ys.getPixelForValue(v)) + 0.5;
        ctx.moveTo(left - 6, py);
        ctx.lineTo(left, py);
      }
      for (const v of xTicks) {
        const px = Math.round(xs.getPixelForValue(v)) + 0.5;
        ctx.moveTo(px, bottom);
        ctx.lineTo(px, bottom + 6);
      }
      ctx.stroke();
      ctx.fillStyle = "#111";
      ctx.font = `12px ${FONT}`;
      ctx.textAlign = "center";
      ctx.textBaseline = "middle";
      for (const v of xTicks) {
        ctx.fillText(String(v), xs.getPixelForValue(v), bottom + 17);
      }
      if (p.col === 0) {
        for (const v of yLabelTicks) {
          const py = ys.getPixelForValue(v);
          ctx.save();
          ctx.translate(left - 15, py);
          ctx.rotate(-Math.PI / 2);
          ctx.fillText(v.toFixed(1), 0, 0);
          ctx.restore();
        }
      }
      ctx.font = `14px ${FONT}`;
      ctx.textAlign = "left";
      ctx.textBaseline = "alphabetic";
      ctx.fillText(p.label, left + 7, top + 21);
      ctx.restore();
    },
  };
}

function Panel({ p }: { p: PanelDef }) {
  const ref = useRef<HTMLCanvasElement>(null);
  const boxL = COL_L[p.col];
  const boxW = COL_W[p.col];
  const boxT = ROW_T[p.row];
  const w = boxW + PAD_L + PAD_R;
  const h = BOX_H + PAD_T + PAD_B;
  useEffect(() => {
    if (!ref.current) return;
    const chart = new Chart(ref.current, {
      type: "scatter",
      data: {
        datasets: [
          {
            type: "line",
            data: p.fitX.map((x, i) => ({ x, y: p.fitY[i] })),
            borderColor: "#000",
            borderWidth: 2,
            pointRadius: 0,
            tension: 0.4,
            fill: false,
            order: 0,
          } as any,
          {
            type: "scatter",
            data: p.ages.map((x, i) => ({ x, y: p.vals[i] })),
            pointStyle: "circle",
            pointRadius: p.r ?? 2.1,
            borderWidth: p.bw ?? 0.8,
            borderColor: p.color,
            backgroundColor: p.fill ?? "rgba(0,0,0,0)",
            order: 1,
          } as any,
        ],
      },
      options: {
        responsive: false,
        maintainAspectRatio: false,
        animation: false,
        devicePixelRatio: 1,
        events: [],
        layout: { padding: { left: PAD_L, top: PAD_T, right: PAD_R, bottom: PAD_B } },
        scales: {
          x: { type: "linear", min: -3.6, max: 93.6, display: false },
          y: { type: "linear", min: -0.012, max: 0.312, display: false },
        },
        plugins: { legend: { display: false }, tooltip: { enabled: false } },
      },
      plugins: [makeFramePlugin(p)],
    });
    return () => chart.destroy();
  }, []);
  return (
    <canvas
      ref={ref}
      width={w}
      height={h}
      style={{ position: "absolute", left: boxL - PAD_L, top: boxT - PAD_T, width: w, height: h }}
    />
  );
}

function bracketPath(L: number, R: number) {
  const yb = 78.7, yt = 38.7, rx = 21, ry = 40;
  return `M ${L} ${yb} A ${rx} ${ry} 0 0 1 ${L + rx} ${yt} L ${R - rx} ${yt} A ${rx} ${ry} 0 0 1 ${R} ${yb}`;
}

export default function App() {
  return (
    <div
      style={{
        position: "absolute",
        left: 0,
        top: 0,
        width: 792,
        height: 1145,
        boxSizing: "border-box",
        border: "1.5px solid #858585",
        background: "#fff",
        overflow: "hidden",
      }}
    >
      {headerLabels.map((t, i) => (
        <div
          key={i}
          style={{
            position: "absolute",
            left: HEADER_X[i] - 90,
            width: 180,
            top: 10,
            textAlign: "center",
            fontFamily: FONT,
            fontSize: 18,
            lineHeight: "24px",
            color: "#111",
          }}
        >
          {t}
        </div>
      ))}
      <svg width={792} height={1145} style={{ position: "absolute", left: -1.5, top: -1.5 }}>
        {COL_L.map((L, i) => (
          <path key={i} d={bracketPath(L, L + COL_W[i])} fill="none" stroke="#111" strokeWidth={1.2} />
        ))}
      </svg>
      <div style={{ position: "absolute", left: -1.5, top: -1.5 }}>
        {panels.map((p, i) => (
          <Panel key={i} p={p} />
        ))}
      </div>
    </div>
  );
}
